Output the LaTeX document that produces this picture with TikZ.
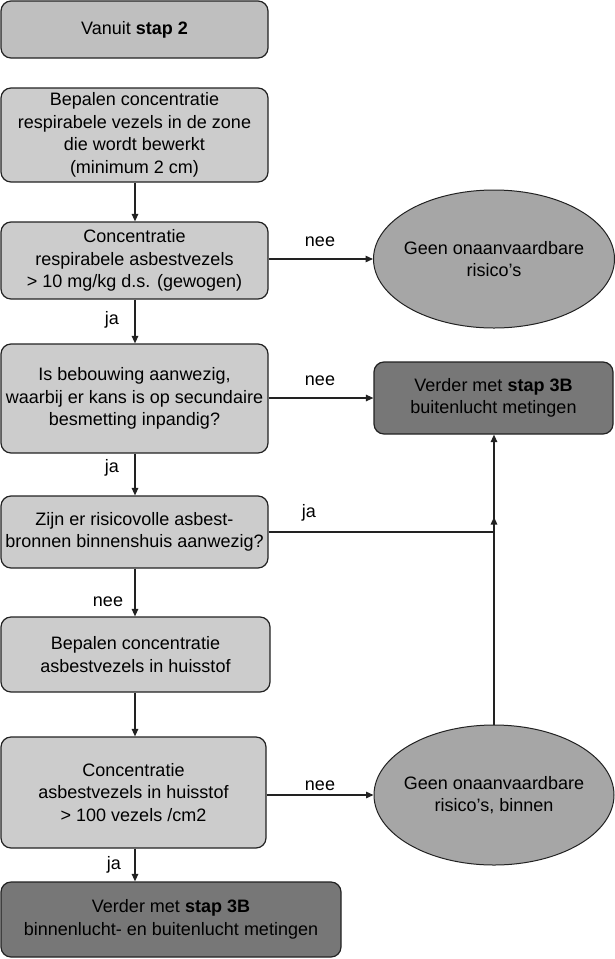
\documentclass[tikz,border=0pt]{standalone}
\usepackage{fontspec}
\setmainfont{Liberation Sans}
\usetikzlibrary{shapes.geometric,arrows.meta}
\definecolor{topgray}{HTML}{BFBFBF}
\definecolor{lightgray}{HTML}{CCCCCC}
\definecolor{ellgray}{HTML}{A6A6A6}
\definecolor{darkgray}{HTML}{777777}
\definecolor{edge}{HTML}{222222}
\tikzset{
  x=1pt, y=-1pt,
  every node/.style={font=\fontsize{18}{22.5}\selectfont, text=black},
  box/.style={draw=edge, line width=1.2pt, rounded corners=10pt, align=center, inner sep=2pt},
  lbox/.style={box, fill=lightgray},
  ell/.style={ellipse, draw=edge, line width=1pt, fill=ellgray, align=center, inner sep=-8pt},
  conn/.style={draw=edge, line width=1.3pt, -{Triangle[length=7.5pt,width=6.5pt]}},
  plain/.style={draw=edge, line width=1.3pt},
  lab/.style={inner sep=0pt}
}
\begin{document}
\begin{tikzpicture}
\useasboundingbox (0,0) rectangle (615,959);
\node[box, fill=topgray, minimum width=267pt, minimum height=57pt] (b1) at (134.5,29.5) {Vanuit \textbf{stap 2}};
\node[lbox, minimum width=267pt, minimum height=94pt] (b2) at (134.5,135) {Bepalen concentratie\\respirabele vezels in de zone\\die wordt bewerkt\\(minimum 2 cm)};
\node[lbox, minimum width=267pt, minimum height=77pt] (b3) at (134.5,260.5) {Concentratie\\respirabele asbestvezels\\> 10 mg/kg d.s. (gewogen)};
\node[lbox, minimum width=267pt, minimum height=109pt] (b4) at (134.5,398.5) {Is bebouwing aanwezig,\\waarbij er kans is op secundaire\\besmetting inpandig?};
\node[lbox, minimum width=267pt, minimum height=72pt] (b5) at (134.5,532) {Zijn er risicovolle asbest-\\bronnen binnenshuis aanwezig?};
\node[lbox, minimum width=269pt, minimum height=75pt] (b6) at (135.5,654.5) {Bepalen concentratie\\asbestvezels in huisstof};
\node[lbox, minimum width=265pt, minimum height=111pt] (b7) at (133.5,792.5) {Concentratie\\asbestvezels in huisstof\\> 100 vezels /cm2};
\node[box, fill=darkgray, minimum width=340pt, minimum height=75pt] (b8) at (171,919.5) {Verder met \textbf{stap 3B}\\binnenlucht- en buitenlucht metingen};
\node[box, fill=darkgray, minimum width=239pt, minimum height=72pt] (r3b) at (493.5,398) {Verder met \textbf{stap 3B}\\buitenlucht metingen};
\node[ell, minimum width=241pt, minimum height=138pt] (e1) at (494,259) {Geen onaanvaardbare\\risico’s};
\node[ell, minimum width=240pt, minimum height=140pt] (e2) at (494,795) {Geen onaanvaardbare\\risico’s, binnen};

\coordinate (jn) at (494,532);
\coordinate (mid) at (494,517);

\draw[conn] (b2.south -| 135,0) -- (b3.north -| 135,0);
\draw[conn] (b3.east |- e1) -- (e1.west);
\draw[conn] (b3.south -| 135,0) -- (b4.north -| 135,0);
\draw[conn] (b4.east |- r3b) -- (r3b.west);
\draw[conn] (b4.south -| 135,0) -- (b5.north -| 135,0);
\draw[plain] (b5.east) -- (jn);
\draw[conn] (jn) -- (r3b.south -| jn);
\draw[conn] (e2.north) -- (mid);
\draw[conn] (b5.south -| 135,0) -- (b6.north -| 135,0);
\draw[conn] (b6.south -| 135,0) -- (b7.north -| 135,0);
\draw[conn] (b7.east |- e2) -- (e2.west);
\draw[conn] (b7.south -| 135,0) -- (b8.north -| 135,0);

\node[lab] (l1) at (320,242) {nee};
\node[lab] (l2) at (112,320) {ja};
\node[lab] (l3) at (320,381) {nee};
\node[lab] (l4) at (112,468) {ja};
\node[lab] (l5) at (309,513) {ja};
\node[lab] (l6) at (108,602) {nee};
\node[lab] (l7) at (320,786) {nee};
\node[lab] (l8) at (114,865) {ja};
\end{tikzpicture}
\end{document}
